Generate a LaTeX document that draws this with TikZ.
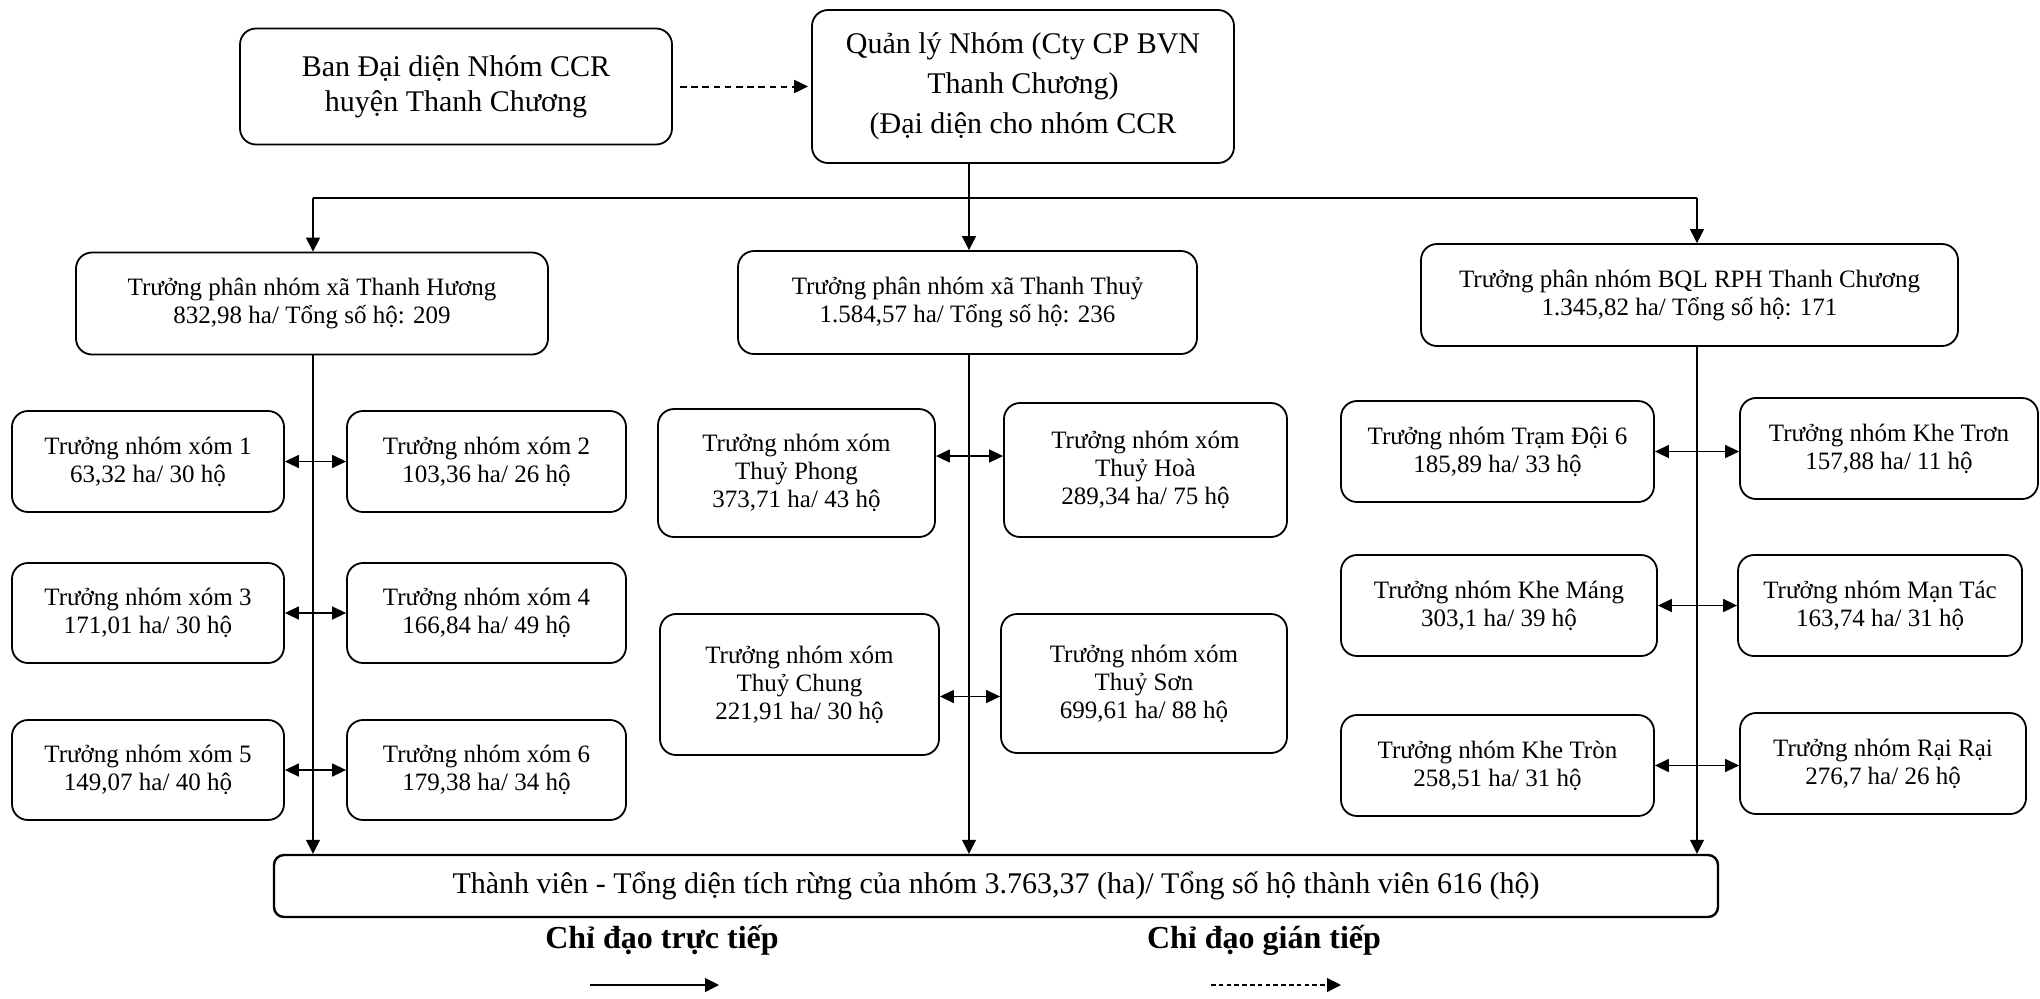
\documentclass[tikz,border=0pt]{standalone}
\usepackage{fontspec}
\setmainfont{Liberation Serif}
\usetikzlibrary{arrows.meta}

\begin{document}
\begin{tikzpicture}[x=0.5pt, y=-0.5pt,
  box/.style={draw, rounded corners=8pt, line width=0.9pt, align=center, inner sep=0pt, font=\fontsize{12.5}{14}\selectfont},
  topbox/.style={box, font=\fontsize{15}{17.5}\selectfont},
  wh/.style 2 args={minimum width=#1*0.5pt, minimum height=#2*0.5pt},
  link/.style={line width=0.6pt},
  tip/.style={link, -{Triangle[length=7pt,width=7pt]}},
  dbl/.style={line width=0.75pt, {Triangle[length=7pt,width=6.5pt]}-{Triangle[length=7pt,width=6.5pt]}},
  ind/.style={line width=1pt, -{Triangle[length=7pt,width=6.5pt]}, dash pattern=on 3.3pt off 2.3pt}
]
\useasboundingbox (0,0) rectangle (2040,998);

% top
\node[topbox, wh={432}{116}] (ban) at (456,86.5) {Ban Đại diện Nhóm CCR\\huyện Thanh Chương};
\node[topbox, wh={422}{153}, font=\fontsize{15}{20}\selectfont] (ql) at (1023,86.5) {Quản lý Nhóm (Cty CP BVN\\Thanh Chương)\\(Đại diện cho nhóm CCR};

% phan nhom
\node[box, wh={472}{102}] (hh) at (312,303.5) {Trưởng phân nhóm xã Thanh Hương\\832,98 ha/ Tổng số hộ: 209};
\node[box, wh={459}{103}] (tt) at (967.5,302.5) {Trưởng phân nhóm xã Thanh Thuỷ\\1.584,57 ha/ Tổng số hộ: 236};
\node[box, wh={537}{102}] (bql) at (1689.5,295) {Trưởng phân nhóm BQL RPH Thanh Chương\\1.345,82 ha/ Tổng số hộ: 171};

% xom - Thanh Huong
\node[box, wh={272}{101}] (x1) at (148,461.5) {Trưởng nhóm xóm 1\\63,32 ha/ 30 hộ};
\node[box, wh={279}{101}] (x2) at (486.5,461.5) {Trưởng nhóm xóm 2\\103,36 ha/ 26 hộ};
\node[box, wh={272}{100}] (x3) at (148,613) {Trưởng nhóm xóm 3\\171,01 ha/ 30 hộ};
\node[box, wh={279}{100}] (x4) at (486.5,613) {Trưởng nhóm xóm 4\\166,84 ha/ 49 hộ};
\node[box, wh={272}{100}] (x5) at (148,770) {Trưởng nhóm xóm 5\\149,07 ha/ 40 hộ};
\node[box, wh={279}{100}] (x6) at (486.5,770) {Trưởng nhóm xóm 6\\179,38 ha/ 34 hộ};

% xom - Thanh Thuy
\node[box, wh={277}{128}] (tp) at (796.5,473) {Trưởng nhóm xóm\\Thuỷ Phong\\373,71 ha/ 43 hộ};
\node[box, wh={283}{134}] (th) at (1145.5,470) {Trưởng nhóm xóm\\Thuỷ Hoà\\289,34 ha/ 75 hộ};
\node[box, wh={279}{141}] (tc) at (799.5,684.5) {Trưởng nhóm xóm\\Thuỷ Chung\\221,91 ha/ 30 hộ};
\node[box, wh={286}{139}] (ts) at (1144,683.5) {Trưởng nhóm xóm\\Thuỷ Sơn\\699,61 ha/ 88 hộ};

% xom - BQL
\node[box, wh={313}{101}] (td6) at (1497.5,451.5) {Trưởng nhóm Trạm Đội 6\\185,89 ha/ 33 hộ};
\node[box, wh={298}{101}] (ktr) at (1889,448.5) {Trưởng nhóm Khe Trơn\\157,88 ha/ 11 hộ};
\node[box, wh={316}{101}] (km) at (1499,605.5) {Trưởng nhóm Khe Máng\\303,1 ha/ 39 hộ};
\node[box, wh={284}{101}] (mt) at (1880,605.5) {Trưởng nhóm Mạn Tác\\163,74 ha/ 31 hộ};
\node[box, wh={313}{101}] (ktn) at (1497.5,765.5) {Trưởng nhóm Khe Tròn\\258,51 ha/ 31 hộ};
\node[box, wh={286}{101}] (rr) at (1883,763.5) {Trưởng nhóm Rại Rại\\276,7 ha/ 26 hộ};

% thanh vien
\node[box, rounded corners=5pt, line width=1.2pt, wh={1444}{62}, font=\fontsize{15}{17}\selectfont] (mem) at (996,886) {Thành viên - Tổng diện tích rừng của nhóm 3.763,37 (ha)/ Tổng số hộ thành viên 616 (hộ)};

% legend
\node[font=\fontsize{16}{18}\selectfont\bfseries] (lt) at (662,940) {Chỉ đạo trực tiếp};
\node[font=\fontsize{16}{18}\selectfont\bfseries] (lg) at (1264,940) {Chỉ đạo gián tiếp};
\coordinate (lt1) at (590,985);
\coordinate (lt2) at (719,985);
\coordinate (lg1) at (1211,985);
\coordinate (lg2) at (1341,985);
\draw[tip] (lt1) -- (lt2);
\draw[tip, dash pattern=on 2.3pt off 1.6pt] (lg1) -- (lg2);

% connectors
\draw[ind, shorten <=3.5pt, shorten >=1.5pt] (ban.east) -- (ql.west);
\coordinate (busL) at (313,198);
\coordinate (busM) at (969,198);
\coordinate (busR) at (1697,198);
\draw[link] (ql.south -| busM) -- (busM);
\draw[link] (busL) -- (busR);
\foreach \b/\n in {busL/hh, busM/tt, busR/bql}
{
	\draw[tip] (\b) -- (\b |- \n.north);
	\draw[tip] (\n.south -| \b) -- (\b |- mem.north);
};

\foreach \a/\c in {x1/x2, x3/x4, x5/x6, td6/ktr, km/mt, ktn/rr}
	\draw[dbl] (\a.east) -- (\a.east -| \c.west);
\draw[dbl] ([yshift=8.5pt]tp.east) -- ([yshift=8.5pt]tp.east -| th.west);
\draw[dbl] ([yshift=-6pt]tc.east) -- ([yshift=-6pt]tc.east -| ts.west);

\end{tikzpicture}
\end{document}
